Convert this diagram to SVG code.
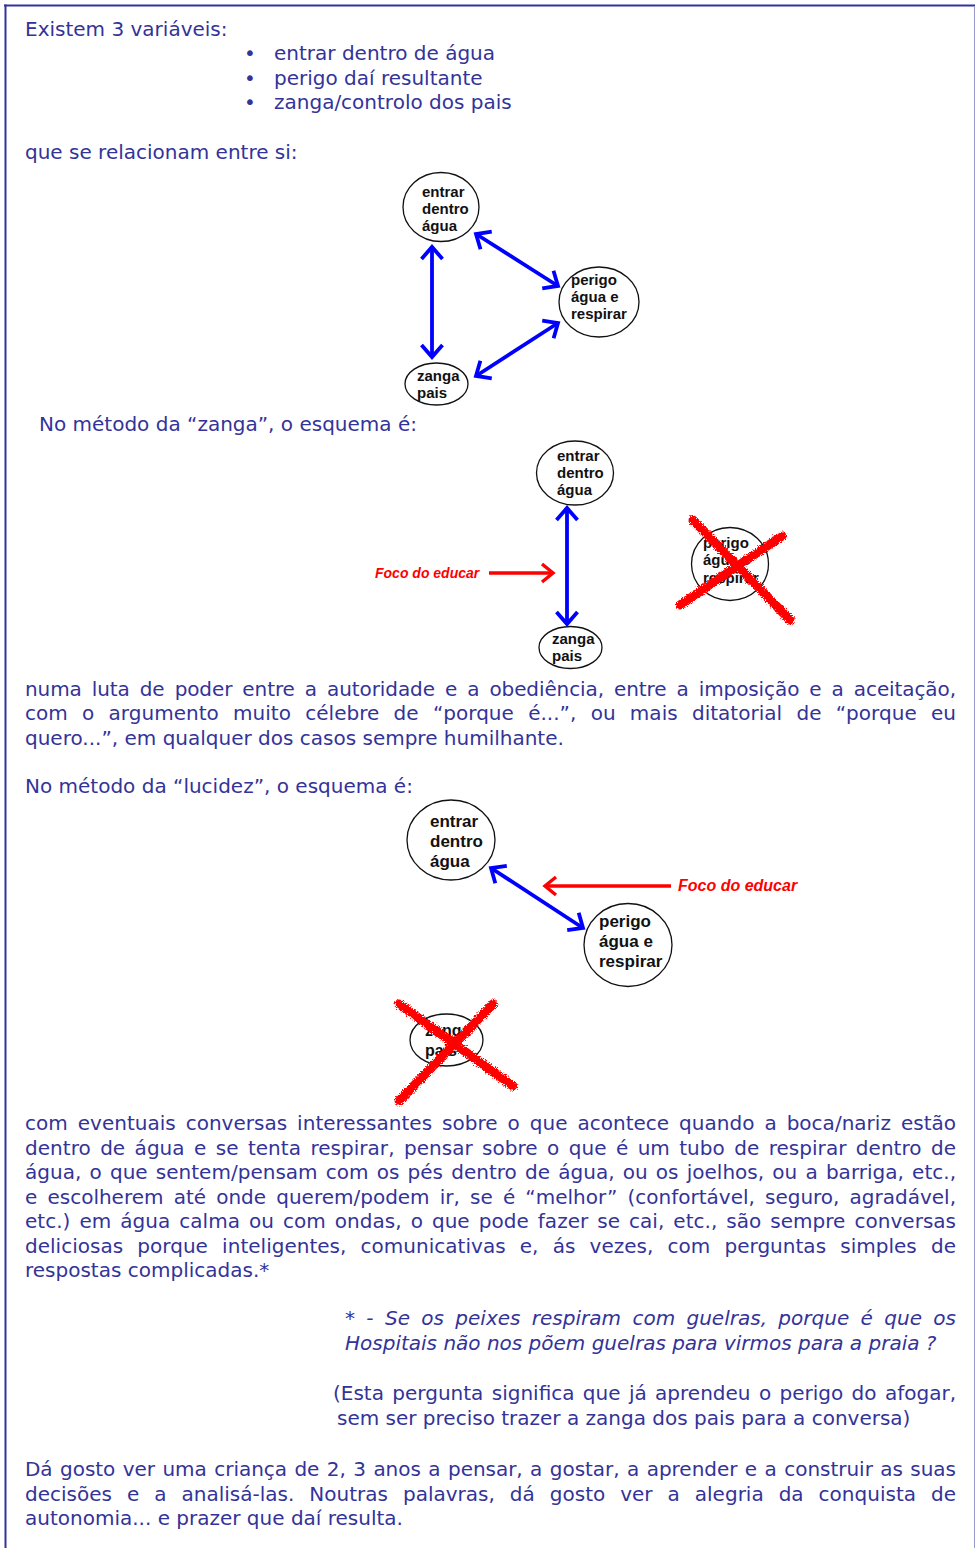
<svg xmlns="http://www.w3.org/2000/svg" width="975" height="1548" viewBox="0 0 975 1548">
<style>
.t{font-family:"DejaVu Sans",Verdana,sans-serif;font-size:20px;fill:#333399}
.i{font-style:italic}
.n{font-family:"Liberation Sans",Arial,sans-serif;font-weight:bold;fill:#111}
.f{font-family:"Liberation Sans",Arial,sans-serif;font-weight:bold;font-style:italic;fill:#FF0000}
.e{fill:#fff;stroke:#111;stroke-width:1.3}
.b{fill:none;stroke:#0000FF;stroke-width:3.8;marker-start:url(#ab);marker-end:url(#ab)}
.r{fill:none;stroke:#FF0000;stroke-width:3.4;marker-end:url(#ar)}
.x{fill:none;stroke:#FF0000;stroke-width:9;stroke-linecap:round;filter:url(#spray)}
</style>
<defs>
<marker id="ab" viewBox="0 0 16 24" refX="15" refY="12" markerWidth="16" markerHeight="24" markerUnits="userSpaceOnUse" orient="auto-start-reverse" overflow="visible">
<path d="M3,1.5 L15,12 L3,22.5" fill="none" stroke="#0000FF" stroke-width="3.8"/>
</marker>
<marker id="ar" viewBox="0 0 16 24" refX="15" refY="12" markerWidth="16" markerHeight="24" markerUnits="userSpaceOnUse" orient="auto" overflow="visible">
<path d="M4,3 L15,12 L4,21" fill="none" stroke="#FF0000" stroke-width="3.4"/>
</marker>
<filter id="spray" x="-20%" y="-20%" width="140%" height="140%">
<feTurbulence type="fractalNoise" baseFrequency="0.9" numOctaves="2" result="n"/>
<feDisplacementMap in="SourceGraphic" in2="n" scale="6" xChannelSelector="R" yChannelSelector="G"/>
</filter>
</defs>
<rect width="975" height="1548" fill="#fff"/>
<g id="frame">
<line x1="4" y1="5.5" x2="975" y2="5.5" stroke="#333399" stroke-width="2"/>
<line x1="5.5" y1="4.5" x2="5.5" y2="1548" stroke="#333399" stroke-width="2"/>
<line x1="974.5" y1="6" x2="974.5" y2="1548" stroke="#9999CC" stroke-width="1"/>
</g>
<g id="text-top">
<text class="t" x="25" y="36">Existem 3 variáveis:</text>
<text class="t" x="244" y="60">•</text><text class="t" x="274" y="60">entrar dentro de água</text>
<text class="t" x="244" y="84.5">•</text><text class="t" x="274" y="84.5">perigo daí resultante</text>
<text class="t" x="244" y="109">•</text><text class="t" x="274" y="109">zanga/controlo dos pais</text>
<text class="t" x="25" y="159">que se relacionam entre si:</text>
<text class="t" x="39" y="431">No método da “zanga”, o esquema é:</text>
<text class="t" x="25" y="695.5" word-spacing="3.8" textLength="931" lengthAdjust="spacing">numa luta de poder entre a autoridade e a obediência, entre a imposição e a aceitação,</text>
<text class="t" x="25" y="720" word-spacing="7.9" textLength="931" lengthAdjust="spacing">com o argumento muito célebre de “porque é...”, ou mais ditatorial de “porque eu</text>
<text class="t" x="25" y="744.5">quero...”, em qualquer dos casos sempre humilhante.</text>
<text class="t" x="25" y="792.5">No método da “lucidez”, o esquema é:</text>
</g>
<g id="text-bottom">
<text class="t" x="25" y="1130" word-spacing="3.6" textLength="931" lengthAdjust="spacing">com eventuais conversas interessantes sobre o que acontece quando a boca/nariz estão</text>
<text class="t" x="25" y="1154.5" word-spacing="3" textLength="931" lengthAdjust="spacing">dentro de água e se tenta respirar, pensar sobre o que é um tubo de respirar dentro de</text>
<text class="t" x="25" y="1179" word-spacing="1.8" textLength="931" lengthAdjust="spacing">água, o que sentem/pensam com os pés dentro de água, ou os joelhos, ou a barriga, etc.,</text>
<text class="t" x="25" y="1203.5" word-spacing="3.8" textLength="931" lengthAdjust="spacing">e escolherem até onde querem/podem ir, se é “melhor” (confortável, seguro, agradável,</text>
<text class="t" x="25" y="1228" word-spacing="2.7" textLength="931" lengthAdjust="spacing">etc.) em água calma ou com ondas, o que pode fazer se cai, etc., são sempre conversas</text>
<text class="t" x="25" y="1252.5" word-spacing="7.8" textLength="931" lengthAdjust="spacing">deliciosas porque inteligentes, comunicativas e, ás vezes, com perguntas simples de</text>
<text class="t" x="25" y="1277">respostas complicadas.*</text>
<text class="t i" x="345" y="1325" word-spacing="5" textLength="611" lengthAdjust="spacing">* - Se os peixes respiram com guelras, porque é que os</text>
<text class="t i" x="345" y="1349.5">Hospitais não nos põem guelras para virmos para a praia ?</text>
<text class="t" x="333" y="1400" word-spacing="2" textLength="623" lengthAdjust="spacing">(Esta pergunta significa que já aprendeu o perigo do afogar,</text>
<text class="t" x="337" y="1424.5">sem ser preciso trazer a zanga dos pais para a conversa)</text>
<text class="t" x="25" y="1476" word-spacing="1.1" textLength="931" lengthAdjust="spacing">Dá gosto ver uma criança de 2, 3 anos a pensar, a gostar, a aprender e a construir as suas</text>
<text class="t" x="25" y="1500.5" word-spacing="8.6" textLength="931" lengthAdjust="spacing">decisões e a analisá-las. Noutras palavras, dá gosto ver a alegria da conquista de</text>
<text class="t" x="25" y="1525">autonomia... e prazer que daí resulta.</text>
</g>
<g id="d1-entrar">
<ellipse class="e" cx="441" cy="207" rx="38" ry="34.5"/>
<text class="n" font-size="15" x="422" y="197">entrar</text>
<text class="n" font-size="15" x="422" y="214">dentro</text>
<text class="n" font-size="15" x="422" y="231">água</text>
</g>
<g id="d1-perigo">
<ellipse class="e" cx="599" cy="302" rx="40" ry="35"/>
<text class="n" font-size="15" x="571" y="285">perigo</text>
<text class="n" font-size="15" x="571" y="302">água e</text>
<text class="n" font-size="15" x="571" y="319">respirar</text>
</g>
<g id="d1-zanga">
<ellipse class="e" cx="436.5" cy="384" rx="31.5" ry="21"/>
<text class="n" font-size="15" x="417" y="381">zanga</text>
<text class="n" font-size="15" x="417" y="398">pais</text>
</g>
<g id="d2-entrar">
<ellipse class="e" cx="575" cy="473" rx="38.5" ry="32"/>
<text class="n" font-size="15" x="557" y="461">entrar</text>
<text class="n" font-size="15" x="557" y="478">dentro</text>
<text class="n" font-size="15" x="557" y="495">água</text>
</g>
<g id="d2-zanga">
<ellipse class="e" cx="570.5" cy="647.5" rx="31.5" ry="21"/>
<text class="n" font-size="15" x="552" y="644">zanga</text>
<text class="n" font-size="15" x="552" y="661">pais</text>
</g>
<g id="d2-perigo">
<ellipse class="e" cx="730" cy="564" rx="38.5" ry="36.5"/>
<text class="n" font-size="15" x="703" y="548">perigo</text>
<text class="n" font-size="15" x="703" y="565">água e</text>
<text class="n" font-size="15" x="703" y="583">respirar</text>
<path class="x" d="M693,520 L790,620 M782,536 L680,605"/>
</g>
<g id="d2-foco">
<text class="f" font-size="14" x="375" y="578">Foco do educar</text>
</g>
<g id="d3-entrar">
<ellipse class="e" cx="451" cy="840" rx="44" ry="40"/>
<text class="n" font-size="17" x="430" y="827">entrar</text>
<text class="n" font-size="17" x="430" y="847">dentro</text>
<text class="n" font-size="17" x="430" y="867">água</text>
</g>
<g id="d3-perigo">
<ellipse class="e" cx="628" cy="945" rx="44" ry="41.5"/>
<text class="n" font-size="17" x="599" y="927">perigo</text>
<text class="n" font-size="17" x="599" y="947">água e</text>
<text class="n" font-size="17" x="599" y="967">respirar</text>
</g>
<g id="d3-foco">
<text class="f" font-size="16" x="678" y="891">Foco do educar</text>
</g>
<g id="d3-zanga">
<ellipse class="e" cx="446.5" cy="1040" rx="36.5" ry="26"/>
<text class="n" font-size="16" x="425" y="1036">zanga</text>
<text class="n" font-size="16" x="425" y="1056">pais</text>
<path class="x" d="M399,1004 L513,1086 M493,1004 L399,1101"/>
</g>
<g id="connectors">
<path class="b" d="M432,247 L432,357"/>
<path class="b" d="M476,234 L558,286"/>
<path class="b" d="M476,376 L558,323"/>
<path class="b" d="M567,508 L567,624"/>
<path class="r" d="M489,573 L553,573"/>
<path class="b" d="M491,868 L583,928"/>
<path class="r" d="M671,886 L545,886"/>
</g>
</svg>
